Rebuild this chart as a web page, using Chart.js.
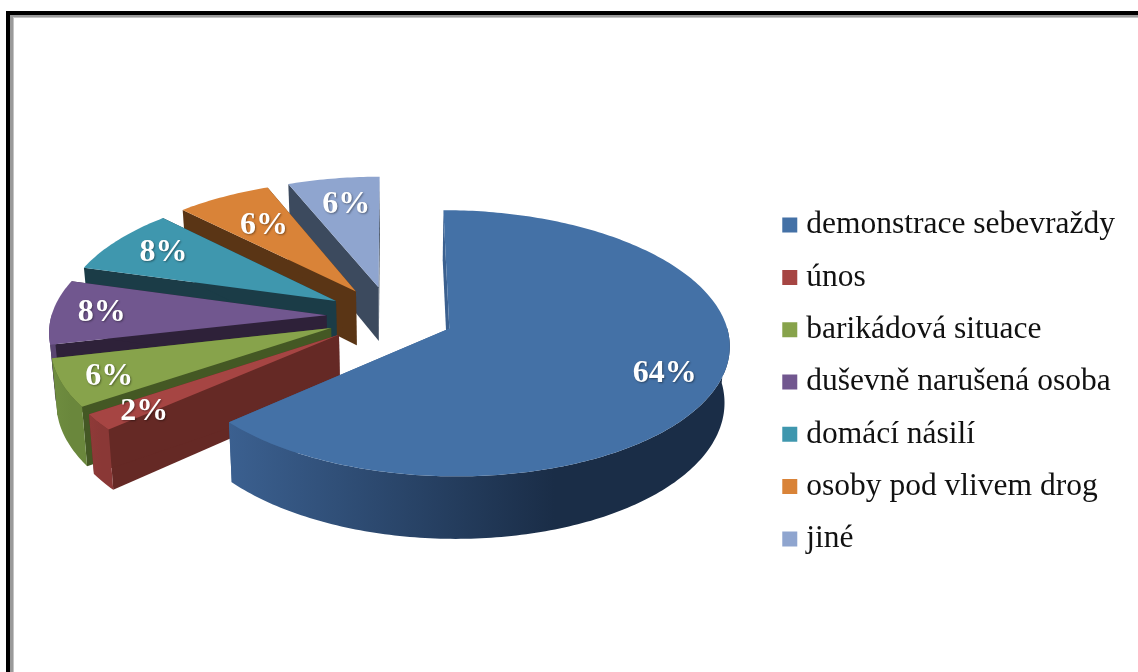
<!DOCTYPE html>
<html><head><meta charset="utf-8">
<script src="https://cdn.jsdelivr.net/npm/chart.js@4"></script>
<style>html,body{margin:0;padding:0;background:#fff}canvas{display:block}</style>
</head><body><canvas id="c" width="1138" height="672"></canvas>
<script>
const categories = ['demonstrace sebevraždy','únos','barikádová situace','duševně narušená osoba','domácí násilí','osoby pod vlivem drog','jiné'];
const shares = [63.5,2.0,5.9,8.0,8.2,6.3,6.1];
const topColors = ['#4471a6','#a64543','#87a34b','#71578f','#3f97ae','#d98338','#8fa5cf'];
const radialWallColors = ['#3b608f','#652925','#445824','#2e2139','#1b3c47','#5a3515','#3c4a5e'];
const outerWallColors = [['#3b6090','#1a2d47'],['#8f3a38','#8a3836'],['#6f8d40','#6a873c'],['#5a4572','#5a4572'],['#32788b','#32788b'],['#ad682c','#ad682c'],['#7284a5','#7284a5']];
const labelRadii = [0.81,0.82,0.83,0.82,0.78,0.69,0.74];
const labelNudgeX = [0,0,0,0,0,2,2];
const labelNudgeY = [0,6,3,0,0,1,0];

const view = {shiftY:-66, squash:0.468, focal:2500, depth:55, vanishX:400, tilt:0.016};
function project(el,X,Y,H){
  const p = 1/(1-Y/view.focal);
  let x = el.x + X*p;
  const y = el.y + view.shiftY + Y*view.squash*p + H*p;
  if(H) x += (view.vanishX-x)*view.tilt;
  return [x,y];
}
function fillPoly(ctx,pts,fill){
  ctx.beginPath();
  pts.forEach((q,i)=> i?ctx.lineTo(q[0],q[1]):ctx.moveTo(q[0],q[1]));
  ctx.closePath();
  ctx.fillStyle=fill; ctx.fill();
}
const frame = {
  id:'frame',
  beforeDraw(chart){
    const c=chart.ctx;
    c.save();
    c.fillStyle='#fff';c.fillRect(0,0,1138,672);
    c.fillStyle='#9a9a9a';c.fillRect(10,15,4,657);c.fillRect(10,15,1128,3);
    c.fillStyle='#c4c4c4';c.fillRect(13,17,1,655);c.fillRect(13,17,1125,1);
    c.fillStyle='#000';c.fillRect(6,11,4,661);c.fillRect(6,11,1132,4);
    c.restore();
  }
};
const pie3d = {
  id:'pie3d',
  beforeDatasetDraw(chart,args){
    const ctx=chart.ctx, arcs=chart.getDatasetMeta(args.index).data;
    const order=arcs.map((a,i)=>i).reverse().filter(i=>i!==0).concat([0]);
    order.forEach(i=>{
      const el=arcs[i], R=el.outerRadius, off=el.options.offset;
      const mid=(el.startAngle+el.endAngle)/2;
      const ax=Math.cos(mid)*off, ay=Math.sin(mid)*off;
      const n=Math.max(2,Math.ceil((el.endAngle-el.startAngle)*60));
      const rim=[], front=[];
      for(let k=0;k<=n;k++){
        const a=el.startAngle+(el.endAngle-el.startAngle)*k/n;
        const q=[ax+R*Math.cos(a),ay+R*Math.sin(a)];
        rim.push(q);
        if(Math.sin(a)>-0.02) front.push(q);
      }
      const T=q=>project(el,q[0],q[1],0), B=q=>project(el,q[0],q[1],view.depth);
      const first=rim[0], last=rim[n], apex=[ax,ay];
      ctx.save();
      fillPoly(ctx,[T(apex),T(first),B(first),B(apex)],radialWallColors[i]);
      fillPoly(ctx,[T(apex),T(last),B(last),B(apex)],radialWallColors[i]);
      const tops=rim.map(T);
      if(front.length>1){
        const ft=front.map(T), fb=front.map(B);
        const xs=ft.map(q=>q[0]);
        const x0=Math.min(...xs), x1=Math.max(...xs);
        const g=ctx.createLinearGradient(x0,0,x1,0);
        g.addColorStop(0,outerWallColors[i][0]);
        g.addColorStop(0.65,outerWallColors[i][1]);
        g.addColorStop(1,outerWallColors[i][1]);
        fillPoly(ctx,ft.concat(fb.slice().reverse()),g);
      }
      fillPoly(ctx,[T(apex)].concat(tops),el.options.backgroundColor);
      ctx.restore();
    });
    ctx.save();
    ctx.font='bold 32px "Liberation Serif"';
    ctx.textAlign='center';ctx.textBaseline='middle';
    ctx.fillStyle='#fff';
    ctx.shadowColor='rgba(0,0,0,0.4)';ctx.shadowBlur=2;ctx.shadowOffsetX=1;ctx.shadowOffsetY=1;
    arcs.forEach((el,i)=>{
      const mid=(el.startAngle+el.endAngle)/2, off=el.options.offset, r=off+el.outerRadius*labelRadii[i];
      const q=project(el,Math.cos(mid)*r,Math.sin(mid)*r,0);
      ctx.fillText(Math.round(shares[i])+'%',q[0]+labelNudgeX[i],q[1]+labelNudgeY[i]);
    });
    ctx.restore();
    return false;
  }
};
new Chart(document.getElementById('c'),{
  type:'pie',
  data:{labels:categories,datasets:[{data:shares,backgroundColor:topColors,borderWidth:0,offset:64,hoverOffset:0}]},
  plugins:[frame,pie3d],
  options:{
    responsive:false,animation:false,devicePixelRatio:1,events:[],
    radius:275,
    layout:{padding:{left:12.5,right:13,top:92,bottom:0}},
    plugins:{
      tooltip:{enabled:false},
      legend:{position:'right',labels:{
        boxWidth:1.5,boxHeight:1.5,padding:20.8,color:'#111',
        font:{family:'"Liberation Serif"',size:31.5},
        generateLabels(chart){
          return Chart.overrides.pie.plugins.legend.labels.generateLabels(chart).map(it=>({...it,strokeStyle:it.fillStyle,lineWidth:13.5}));
        }
      }}
    }
  }
});
</script></body></html>
